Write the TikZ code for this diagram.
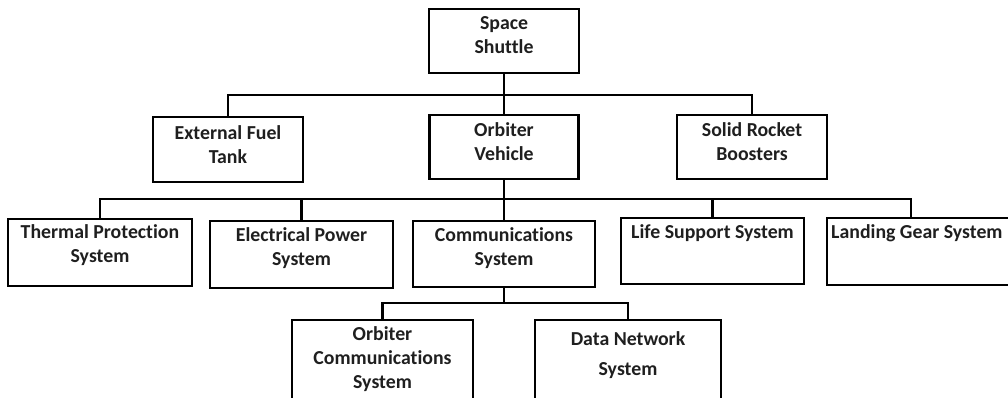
\documentclass[tikz,border=0pt]{standalone}
\usepackage{fontspec}
\setmainfont[Ligatures={NoCommon}]{Carlito}
\begin{document}
\begin{tikzpicture}[x=1pt,y=-1pt,
  box/.style={draw=black,line width=2.2pt,rectangle,inner sep=0pt},
  lbl/.style={font=\bfseries\fontsize{19.8}{24}\selectfont,text=black!88,align=center,inner sep=0pt},
  conn/.style={draw=black,line width=2.2pt,line cap=rect}]
\useasboundingbox (0,0) rectangle (1008,397);
\clip (0,0) rectangle (1008,397);
% boxes
\node[box,minimum width=150pt,minimum height=64pt] (ss) at (504,41) {};
\node[box,minimum width=150pt,minimum height=65pt] (eft) at (228,149.5) {};
\node[box,minimum width=149pt,minimum height=64pt] (ov) at (504,147) {};
\node[box,minimum width=150pt,minimum height=64pt] (srb) at (752,147) {};
\node[box,minimum width=184pt,minimum height=67pt] (tps) at (100,252.5) {};
\node[box,minimum width=183pt,minimum height=67pt] (eps) at (301.5,254.5) {};
\node[box,minimum width=182pt,minimum height=66pt] (cs) at (504,254) {};
\node[box,minimum width=183pt,minimum height=66pt] (lss) at (712.5,251) {};
\node[box,minimum width=190pt,minimum height=67pt] (lgs) at (922,251.5) {};
\node[box,minimum width=181pt,minimum height=100pt] (ocs) at (382.5,370) {};
\node[box,minimum width=186pt,minimum height=100pt] (dns) at (628,370) {};
% labels
\node[lbl] (ss-t) at (504,35) {Space\\Shuttle};
\node[lbl] (eft-t) at (228,144.5) {External Fuel\\Tank};
\node[lbl] (ov-t) at (504,142) {Orbiter\\Vehicle};
\node[lbl] (srb-t) at (752,142) {Solid Rocket\\Boosters};
\node[lbl] (tps-t) at (100,245.5) {Thermal Protection\\System};
\node[lbl] (eps-t) at (301.5,248) {Electrical Power\\System};
\node[lbl] (cs-t) at (504,248) {Communications\\System};
\node[lbl] (lss-t) at (712.5,233) {Life Support System};
\node[lbl,anchor=west] (lgs-t) at (831,233) {Landing Gear System};
\node[lbl] (ocs-t) at (382.5,359) {Orbiter\\Communications\\System};
\node[lbl,font=\bfseries\fontsize{19.8}{30}\selectfont] (dns-t) at (628,355) {Data Network\\System};
% bus coordinates
\coordinate (b1) at (0,95);
\coordinate (b2) at (0,199);
\coordinate (b3) at (0,303);
\coordinate (lgsc) at (911,218);
% connectors
\draw[conn] (ss.south) -- (ov.north);
\draw[conn] (eft.north) -- (eft.north |- b1) -- (srb.north |- b1) -- (srb.north);
\draw[conn] (ov.south) -- (cs.north);
\draw[conn] (tps.north) -- (tps.north |- b2) -- (lgsc |- b2) -- (lgsc);
\draw[conn] (eps.north |- b2) -- (eps.north);
\draw[conn] (lss.north |- b2) -- (lss.north);
\draw[conn] (cs.south) -- (cs.south |- b3);
\draw[conn] (ocs.north) -- (ocs.north |- b3) -- (dns.north |- b3) -- (dns.north);
\end{tikzpicture}
\end{document}
